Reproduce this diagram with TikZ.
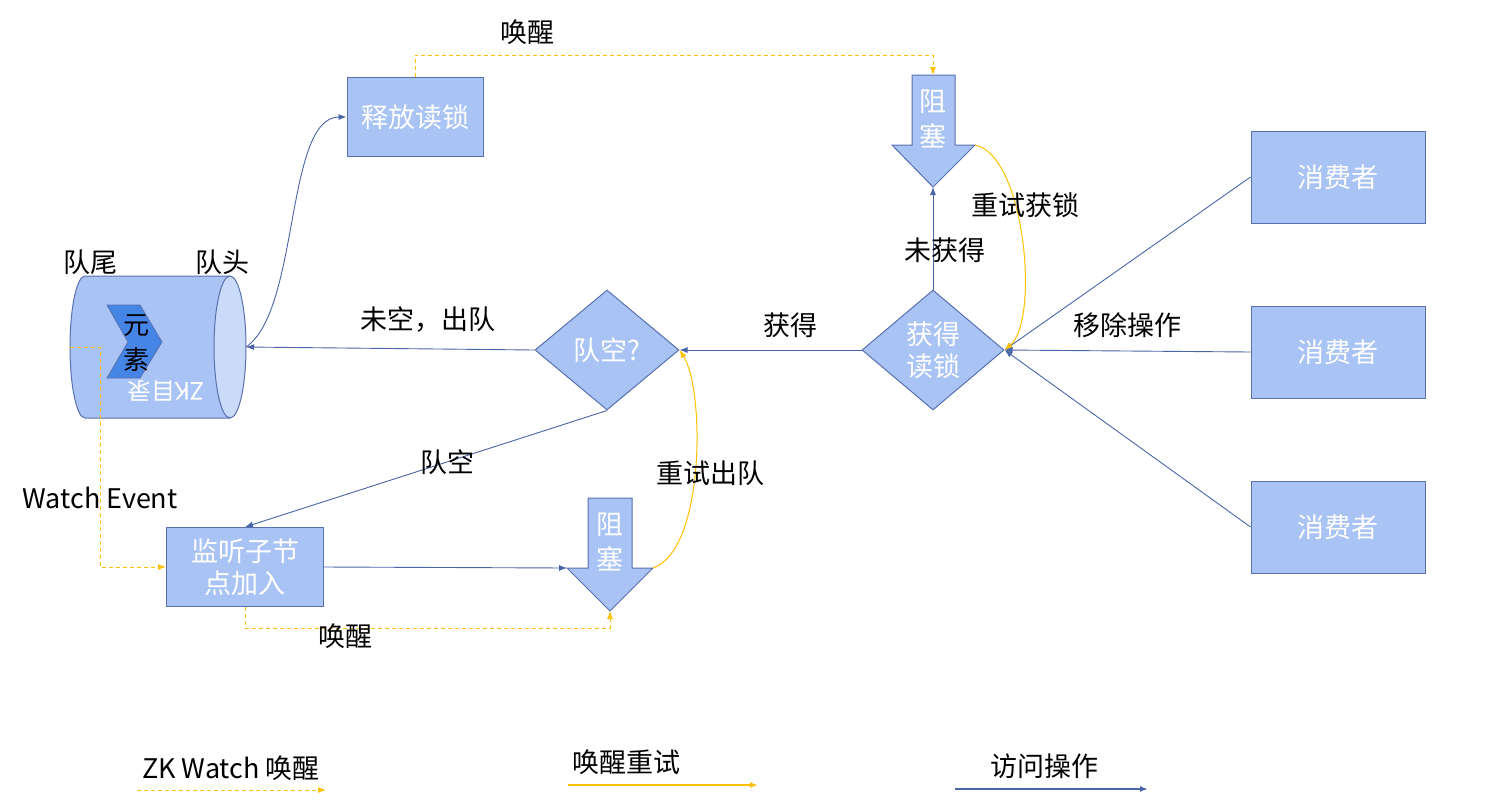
\documentclass[tikz,border=0pt]{standalone}
\usepackage{fontspec}
\setmainfont{Noto Sans CJK SC}
\usetikzlibrary{shapes.geometric, arrows.meta}

\definecolor{boxfill}{HTML}{A9C4F4}
\definecolor{boxline}{HTML}{5870AE}
\definecolor{linkblue}{HTML}{4A64A8}
\definecolor{wakeyellow}{HTML}{FFC000}
\definecolor{elemfill}{HTML}{4585E6}
\definecolor{zkend}{HTML}{C9DBF8}

\tikzset{
    every node/.style={font=\fontsize{27}{32}\selectfont},
    box/.style={draw=boxline, fill=boxfill, text=white, line width=1pt, align=center},
    decision/.style={diamond, draw=boxline, fill=boxfill, text=white, line width=1pt,
        inner sep=0pt, aspect=1.17, minimum width=142pt, minimum height=120pt, align=center},
    access/.style={draw=linkblue, line width=0.9pt, -{Latex[length=8pt,width=6pt]}},
    retry/.style={draw=wakeyellow, line width=1pt, -{Latex[length=8pt,width=6pt]}},
    wake/.style={draw=wakeyellow, line width=1pt, dash pattern=on 4pt off 3pt, -{Latex[length=8pt,width=6pt]}},
}

\begin{document}
\begin{tikzpicture}[x=1pt, y=-1pt]
    \useasboundingbox (0,0) rectangle (1489,804);

    % ==================== ZK 目录（圆柱） ====================
    \fill[boxfill] (230,276) -- (85,276) arc[start angle=270, end angle=90, x radius=15, y radius=71] -- (230,418) -- cycle;
    \draw[boxline, line width=1pt] (230,276) -- (85,276) arc[start angle=270, end angle=90, x radius=15, y radius=71] -- (230,418);
    \draw[boxline, fill=zkend, line width=1pt] (230,347) ellipse [x radius=16, y radius=71];
    \coordinate (zkhead) at (246,347);
    \coordinate (zktail) at (70,347);
    \coordinate (zkwatch) at (100,347);
    \node (tail) at (90,262) {队尾};
    \node (head) at (222,262) {队头};

    % 元素
    \draw[boxline, fill=elemfill, line width=0.8pt] (107,305) -- (140,305) -- (162,342) -- (140,378) -- (107,378) -- (128,342) -- cycle;
    \node[align=center, font=\fontsize{26}{35}\selectfont] (elem) at (136,343) {元\\素};
    \node[rotate=180, text=white, font=\fontsize{24}{28}\selectfont] (zkname) at (166,391) {ZK目录};

    % ==================== 方框与判断 ====================
    \node[box, minimum width=136pt, minimum height=79pt] (release) at (415,117) {释放读锁};
    \node[box, minimum width=157pt, minimum height=79pt] (listen) at (245,567) {监听子节\\点加入};
    \foreach \y/\name in {177/consA, 352/consB, 527/consC}
        \node[box, minimum width=174pt, minimum height=92pt] (\name) at (1338,\y) {消费者};
    \node[decision] (getlock) at (933,350) {获得\\读锁};
    \node[decision, minimum width=144pt] (qempty) at (607,350) {队空?};

    % 阻塞（上）
    \draw[boxline, fill=boxfill, line width=1pt] (912,75) -- (955,75) -- (955,145) -- (975,145) -- (933,187) -- (892,145) -- (912,145) -- cycle;
    \coordinate (blkA-top) at (933,75);
    \coordinate (blkA-tip) at (933,187);
    \coordinate (blkA-right) at (975,145);
    \node[text=white, align=center, font=\fontsize{27}{35}\selectfont] (blkA) at (933,119) {阻\\塞};

    % 阻塞（下）
    \draw[boxline, fill=boxfill, line width=1pt] (588,498) -- (632,498) -- (632,568) -- (653,568) -- (610,611) -- (567,568) -- (588,568) -- cycle;
    \coordinate (blkB-left) at (567,568);
    \coordinate (blkB-tip) at (610,611);
    \coordinate (blkB-right) at (653,568);
    \node[text=white, align=center, font=\fontsize{27}{35}\selectfont] (blkB) at (610,542) {阻\\塞};

    % ==================== 访问操作 ====================
    \foreach \name in {consA, consB, consC}
        \draw[access] (\name.west) -- (getlock.east);
    \draw[access] (getlock.west) -- (qempty.east);
    \draw[access] (qempty.west) -- (zkhead);
    \draw[access] (qempty.south) -- (listen.north);
    \draw[access] (listen.east) -- (blkB-left);
    \draw[access] (getlock.north) -- (blkA-tip);
    \draw[access] (zkhead) .. controls (300,310) and (285,117) .. (release.west);

    % ==================== 唤醒与重试 ====================
    \draw[wake] (release.north) -- ++(0,-22) -| (blkA-top);
    \draw[wake] (listen.south) -- ++(0,21) -| (blkB-tip);
    \draw[wake] (zktail) -- (zkwatch) |- (listen.west);
    \draw[retry] (blkB-right) .. controls (705,550) and (705,390) .. (qempty.east);
    \draw[retry] (blkA-right) .. controls (1025,155) and (1040,320) .. (getlock.east);

    % 标签
    \node (lblnotempty) at (428,320) {未空，出队};
    \node (lblgot) at (790,325) {获得};
    \node (lblnotgot) at (945,250) {未获得};
    \node (lblretrylock) at (1025,205) {重试获锁};
    \node (lblremove) at (1127,325) {移除操作};
    \node (lblempty) at (447,462) {队空};
    \node (lblretryq) at (710,473) {重试出队};
    \node (lblwakeB) at (345,636) {唤醒};
    \node (lblwakeA) at (527,32) {唤醒};
    \node (lblwatch) at (100,498) {Watch Event};

    % ==================== 图例 ====================
    \node (legwake) at (231,768) {ZK Watch 唤醒};
    \coordinate (legwakeA) at (137,790);
    \coordinate (legwakeB) at (326,790);
    \draw[wake] (legwakeA) -- (legwakeB);

    \node (legretry) at (626,762) {唤醒重试};
    \coordinate (legretryA) at (568,785);
    \coordinate (legretryB) at (758,785);
    \draw[retry, line width=2pt] (legretryA) -- (legretryB);

    \node (legaccess) at (1044,766) {访问操作};
    \coordinate (legaccessA) at (955,789);
    \coordinate (legaccessB) at (1148,789);
    \draw[access, line width=1.8pt] (legaccessA) -- (legaccessB);
\end{tikzpicture}
\end{document}
